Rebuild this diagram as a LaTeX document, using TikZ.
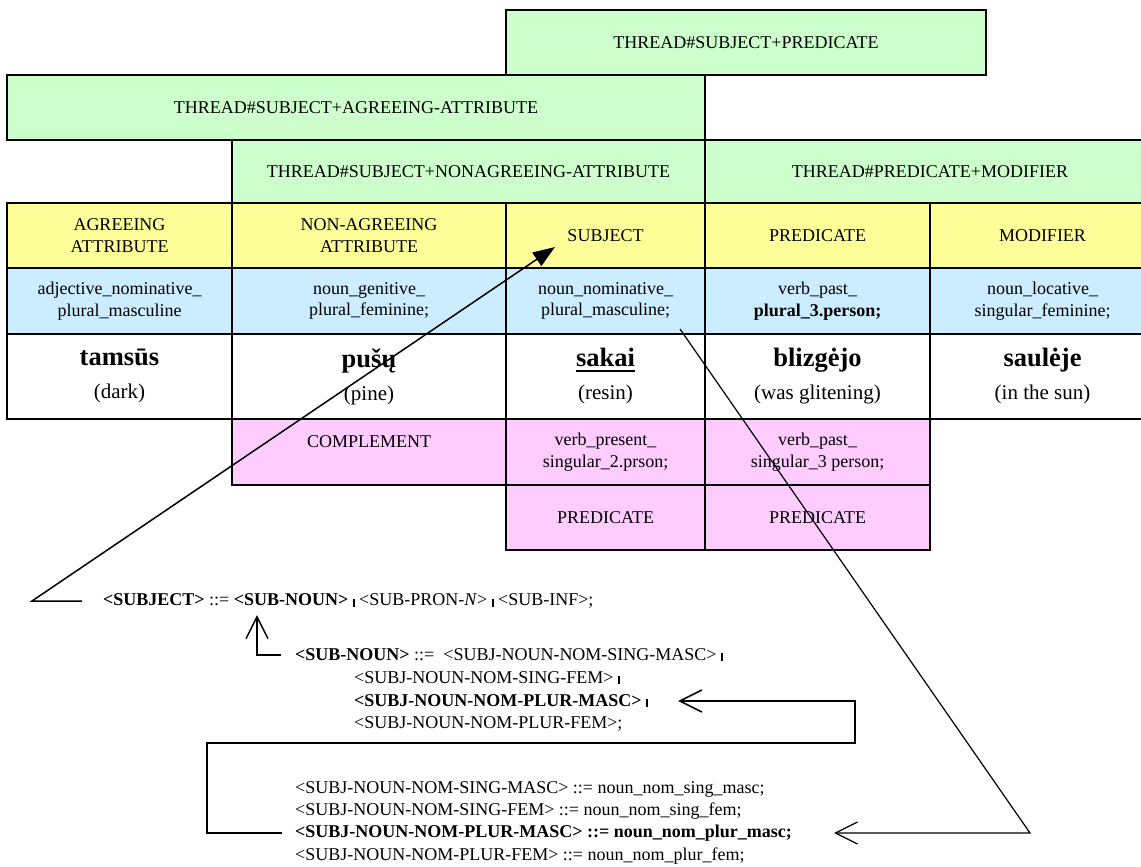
\documentclass[tikz,border=0pt]{standalone}
\usepackage{fontspec}
\setmainfont{Liberation Serif}
\usetikzlibrary{arrows.meta}

\definecolor{thrgreen}{HTML}{CCFFCC}
\definecolor{roleyellow}{HTML}{FFFF99}
\definecolor{morphblue}{HTML}{CCECFF}
\definecolor{altpink}{HTML}{FFCCFF}

% short grammar bar and underlined word
\newcommand\gbar{\rule[-1pt]{1.8pt}{8pt}}
\newcommand\ulword[1]{\setbox0\hbox{#1}\rlap{\rule[-5pt]{\wd0}{2.4pt}}\box0}
\newcommand\wordfont{\fontsize{26.5}{33}\selectfont\bfseries}

\tikzset{
  cell/.style={draw=black, line width=1.8pt, anchor=north west, outer sep=0pt,
    inner sep=2pt, align=center, font=\fontsize{18}{21.5}\selectfont},
  thread/.style={cell, fill=thrgreen},
  role/.style={cell, fill=roleyellow, minimum height=65pt},
  morph/.style={cell, fill=morphblue, minimum height=66pt},
  word/.style={cell, fill=white, minimum height=85pt, font=\fontsize{21}{33}\selectfont},
  alt/.style={cell, fill=altpink},
  rule/.style={anchor=west, inner sep=0pt, font=\fontsize{18}{21.5}\selectfont},
  link/.style={line width=1.5pt},
  thinlink/.style={line width=1.2pt},
  filltip/.style={-{Triangle[length=22pt,width=16pt]}},
  opentip/.style={-{Straight Barb[length=22pt,width=22pt]}},
}

\begin{document}
\begin{tikzpicture}[x=1pt,y=-1pt]
\useasboundingbox (0,0) rectangle (1141,867);

% thread rows
\node[thread, minimum width=480pt, minimum height=65pt] (thrSP) at (506,10) {THREAD\#SUBJECT+PREDICATE};
\node[thread, minimum width=698pt, minimum height=65pt] (thrSA) at (7,75) {THREAD\#SUBJECT+AGREEING-ATTRIBUTE};
\node[thread, minimum width=473pt, minimum height=63pt] (thrSN) at (232,140) {THREAD\#SUBJECT+NONAGREEING-ATTRIBUTE};
\node[thread, minimum width=450pt, minimum height=63pt] (thrPM) at (705,140) {THREAD\#PREDICATE+MODIFIER};

% syntactic roles
\node[role, minimum width=225pt] (rAgr) at (7,203) {AGREEING\\ATTRIBUTE};
\node[role, minimum width=274pt] (rNon) at (232,203) {NON-AGREEING\\ATTRIBUTE};
\node[role, minimum width=199pt] (rSubj) at (506,203) {SUBJECT};
\node[role, minimum width=225pt] (rPred) at (705,203) {PREDICATE};
\node[role, minimum width=225pt] (rMod) at (930,203) {MODIFIER};

% morphological tags
\node[morph, minimum width=225pt] (mAgr) at (7,268) {adjective\_nominative\_\\plural\_masculine};
\node[morph, minimum width=274pt] (mNon) at (232,268) {noun\_genitive\_\\plural\_feminine;};
\node[morph, minimum width=199pt] (mSubj) at (506,268) {noun\_nominative\_\\plural\_masculine;};
\node[morph, minimum width=225pt] (mPred) at (705,268) {verb\_past\_\\\textbf{plural\_3.person;}};
\node[morph, minimum width=225pt] (mMod) at (930,268) {noun\_locative\_\\singular\_feminine;};

% sentence words
\node[word, minimum width=225pt] (wAgr) at (7,334) {{\wordfont tamsūs}\\(dark)};
\node[word, minimum width=274pt] (wNon) at (232,334) {{\wordfont pušų}\\(pine)};
\node[word, minimum width=199pt] (wSubj) at (506,334) {{\wordfont \ulword{sakai}}\\(resin)};
\node[word, minimum width=225pt] (wPred) at (705,334) {{\wordfont blizgėjo}\\(was glitening)};
\node[word, minimum width=225pt] (wMod) at (930,334) {{\wordfont saulėje}\\(in the sun)};

% alternative readings
\node[alt, minimum width=274pt, minimum height=66pt] (aComp) at (232,419) {COMPLEMENT\\\phantom{X}};
\node[alt, minimum width=199pt, minimum height=66pt] (aPres) at (506,419) {verb\_present\_\\singular\_2.prson;};
\node[alt, minimum width=225pt, minimum height=66pt] (aPast) at (705,419) {verb\_past\_\\singular\_3 person;};
\node[alt, minimum width=199pt, minimum height=65pt] (aPred1) at (506,485) {PREDICATE};
\node[alt, minimum width=225pt, minimum height=65pt] (aPred2) at (705,485) {PREDICATE};

% grammar rules
\node[rule] (gSubj) at (103,601) {\textbf{<SUBJECT>} ::= \textbf{<SUB-NOUN>} \gbar{} <SUB-PRON-\textit{N}> \gbar{} <SUB-INF>;};
\node[rule] (gNoun) at (295,655) {\textbf{<SUB-NOUN>} ::=\ \ <SUBJ-NOUN-NOM-SING-MASC> \gbar};
\node[rule] (gNoun2) at (354,678) {<SUBJ-NOUN-NOM-SING-FEM> \gbar};
\node[rule] (gNoun3) at (354,701) {\textbf{<SUBJ-NOUN-NOM-PLUR-MASC> \gbar}};
\node[rule] (gNoun4) at (354,724) {<SUBJ-NOUN-NOM-PLUR-FEM>;};
\node[rule] (gLex1) at (295,789) {<SUBJ-NOUN-NOM-SING-MASC> ::= noun\_nom\_sing\_masc;};
\node[rule] (gLex2) at (295,811) {<SUBJ-NOUN-NOM-SING-FEM> ::= noun\_nom\_sing\_fem;};
\node[rule] (gLex3) at (295,833) {\textbf{<SUBJ-NOUN-NOM-PLUR-MASC> ::= noun\_nom\_plur\_masc;}};
\node[rule] (gLex4) at (295,856) {<SUBJ-NOUN-NOM-PLUR-FEM> ::= noun\_nom\_plur\_fem;};

% connector end points
\coordinate (subjIn) at ([xshift=-21pt]gSubj.west);
\coordinate (subjBend) at (32,601);
\coordinate (subjTip) at (555,247);
\coordinate (nounIn) at ([xshift=-14pt]gNoun.west);
\coordinate (nounTip) at (257,615);
\coordinate (tagOut) at (680,329);
\coordinate (tagBend) at (1030,833);
\coordinate (lexTip) at ([xshift=42pt]gLex3.east);
\coordinate (lexOut) at ([xshift=-13pt]gLex3.west);
\coordinate (plurTip) at ([xshift=30pt]gNoun3.east);

% derivation links
\draw[link, filltip] (subjIn) -- (subjBend) -- (subjTip);
\draw[link, opentip] (nounIn) -| (nounTip);
\draw[link, opentip] (lexOut) -- (207,833) -- (207,743) -- (855,743) |- (plurTip);
\draw[thinlink, opentip] (tagOut) -- (tagBend) -- (lexTip);
\end{tikzpicture}
\end{document}
